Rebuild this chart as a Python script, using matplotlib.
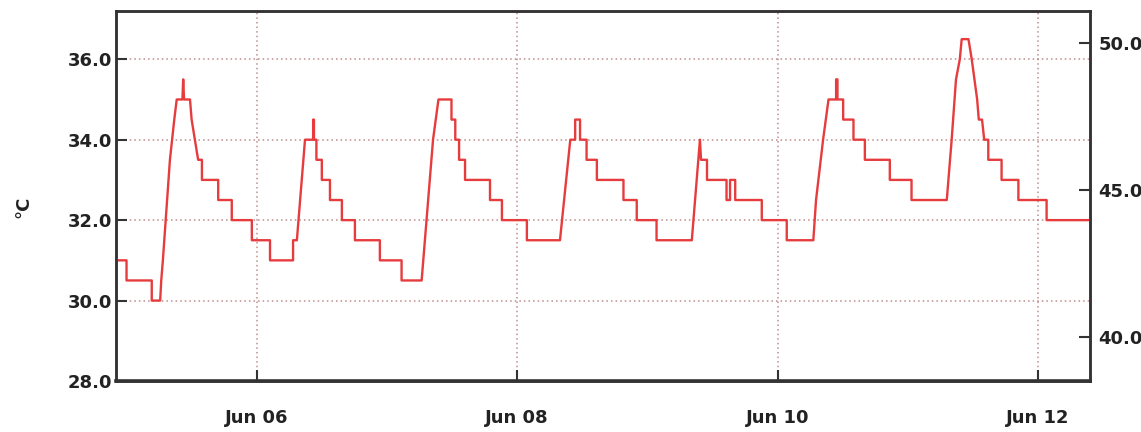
from datetime import datetime, timedelta

from matplotlib import pyplot as plt
import matplotlib.dates as mdates

# hours since Jun 05 00:00 and temperature (°C)
hours = [
    -2.0, 0.0, 0.0, 4.65, 4.65, 6.2,
    6.4, 6.7, 8.0, 8.4, 8.8, 9.25, 10.3, 10.45, 10.6, 11.7, 12.0, 12.6, 13.2, 13.9,
    13.9, 16.9, 16.9, 19.4, 19.4, 23.1, 23.1, 26.45, 26.45, 30.7, 30.7, 31.4,
    32.9, 34.4, 34.4, 34.55, 34.55, 35.0, 35.0, 36.0, 36.0, 37.5, 37.5, 39.7, 39.7, 42.1, 42.1, 46.7, 46.7, 50.7, 50.7, 54.4,
    55.0, 56.5, 57.0, 57.5, 59.9, 59.9, 60.6, 60.6, 61.3, 61.3, 62.4, 62.4, 67.0, 67.0, 69.2, 69.2, 73.8, 73.8, 79.9,
    81.8, 82.7, 82.7, 83.6, 83.6, 84.8, 84.8, 86.7, 86.7, 91.6, 91.6, 94.05, 94.05, 97.7, 97.7, 104.2,
    105.7, 105.9, 107.0, 107.0, 110.6, 110.6, 111.25, 111.25, 112.2, 112.2, 117.1, 117.1, 121.7, 121.7, 126.6,
    127.1, 128.4, 128.9, 129.4, 130.8, 130.8, 131.05, 131.05, 132.1, 132.1, 134.0, 134.0, 136.1, 136.1, 140.7, 140.7, 144.7, 144.7, 151.2,
    152.1, 152.9, 153.6, 153.95, 155.2, 155.8, 156.8, 157.1, 157.7, 158.1, 158.85, 158.85, 161.3, 161.3, 164.4, 164.4, 169.6, 169.6, 177.7,
]
temps = [
    31.0, 31.0, 30.5, 30.5, 30.0, 30.0,
    30.5, 31.0, 33.5, 34.0, 34.5, 35.0, 35.0, 35.5, 35.0, 35.0, 34.5, 34.0, 33.5, 33.5,
    33.0, 33.0, 32.5, 32.5, 32.0, 32.0, 31.5, 31.5, 31.0, 31.0, 31.5, 31.5,
    34.0, 34.0, 34.5, 34.5, 34.0, 34.0, 33.5, 33.5, 33.0, 33.0, 32.5, 32.5, 32.0, 32.0, 31.5, 31.5, 31.0, 31.0, 30.5, 30.5,
    31.5, 34.0, 34.5, 35.0, 35.0, 34.5, 34.5, 34.0, 34.0, 33.5, 33.5, 33.0, 33.0, 32.5, 32.5, 32.0, 32.0, 31.5, 31.5,
    34.0, 34.0, 34.5, 34.5, 34.0, 34.0, 33.5, 33.5, 33.0, 33.0, 32.5, 32.5, 32.0, 32.0, 31.5, 31.5,
    34.0, 33.5, 33.5, 33.0, 33.0, 32.5, 32.5, 33.0, 33.0, 32.5, 32.5, 32.0, 32.0, 31.5, 31.5,
    32.5, 34.0, 34.5, 35.0, 35.0, 35.5, 35.5, 35.0, 35.0, 34.5, 34.5, 34.0, 34.0, 33.5, 33.5, 33.0, 33.0, 32.5, 32.5,
    34.0, 35.5, 36.0, 36.5, 36.5, 36.0, 35.0, 34.5, 34.5, 34.0, 34.0, 33.5, 33.5, 33.0, 33.0, 32.5, 32.5, 32.0, 32.0,
]

left_ticks = [28.0, 30.0, 32.0, 34.0, 36.0]
right_ticks = [40.0, 45.0, 50.0]
left_range = (28.0, 37.2)
right_range = (38.49, 51.1)

base = datetime(2013, 6, 5)
times = [base + timedelta(hours=h) for h in hours]
x_start = base + timedelta(hours=-1.94)
x_end = base + timedelta(hours=177.6)
day_ticks = [datetime(2013, 6, d) for d in (6, 8, 10, 12)]

plt.rcParams['font.family'] = ['DejaVu Sans']
plt.rcParams['font.weight'] = 'bold'

fig = plt.figure(figsize=(11.41, 4.32), dpi=100)
ax = fig.add_axes([116 / 1141, 1 - 381 / 432, 974 / 1141, 370 / 432])
ax2 = ax.twinx()

grid_color = '#b07070'
ax.plot(times, temps, color='#e63c3e', lw=1.7, zorder=3)

ax.set_xlim(x_start, x_end)
ax.set_ylim(*left_range)
ax.set_yticks(left_ticks)
ax.yaxis.set_major_formatter(plt.FormatStrFormatter('%.1f'))
ax.set_xticks(day_ticks)
ax.xaxis.set_major_formatter(mdates.DateFormatter('%b %d'))

ax.grid(True, color=grid_color, linestyle=(0, (1, 2)), linewidth=1.1, alpha=0.8)

ax2.set_ylim(*right_range)
ax2.set_yticks(right_ticks)
ax2.yaxis.set_major_formatter(plt.FormatStrFormatter('%.1f'))

ax.tick_params(axis='y', direction='in', length=8, width=1.5, pad=3,
               labelsize=13, labelcolor='#222222', color='#333333')
ax.tick_params(axis='x', direction='in', length=8, width=1.5, pad=20,
               labelsize=13, labelcolor='#222222', color='#333333')
ax2.tick_params(axis='y', direction='in', length=8, width=1.5, pad=6,
                labelsize=13, labelcolor='#222222', color='#333333')

for a in (ax, ax2):
    for side, sp in a.spines.items():
        sp.set_color('#333333')
        sp.set_linewidth(1.8)
ax.spines['bottom'].set_linewidth(2.6)

ax.set_ylabel('°C', fontsize=13, fontweight='bold', color='#222222')
ax.yaxis.set_label_coords(-0.086, 0.47)

fig.savefig('out.png', dpi=100)
